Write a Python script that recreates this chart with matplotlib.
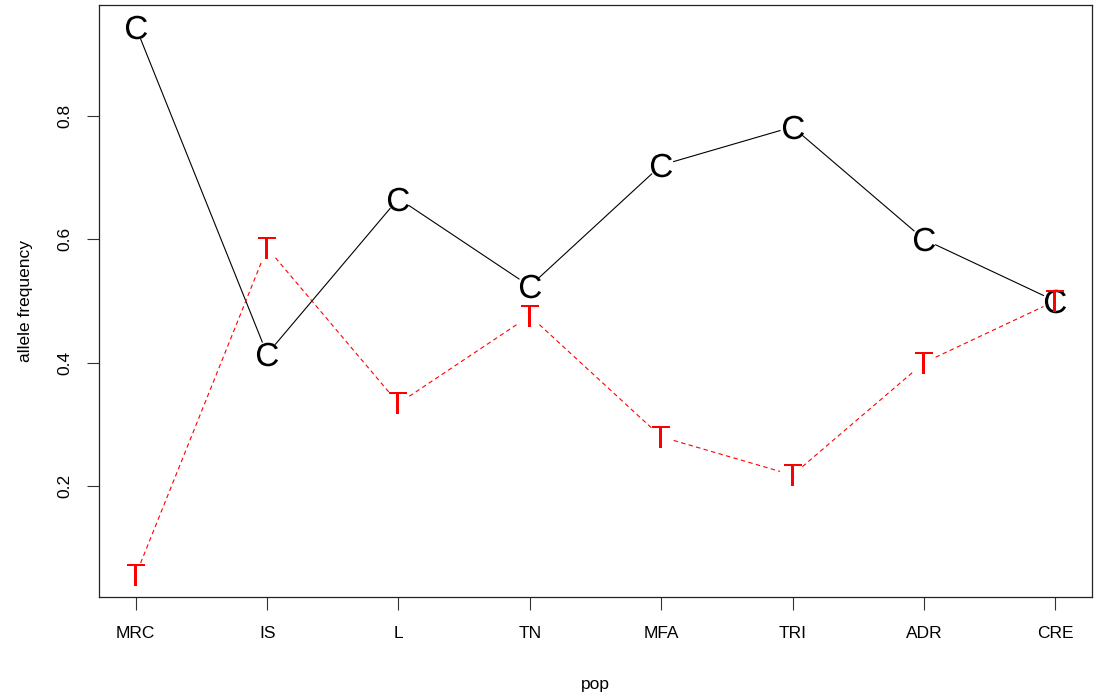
import numpy as np
import matplotlib.pyplot as plt

plt.rcParams['font.family'] = 'Liberation Sans'
plt.rcParams['mathtext.fontset'] = 'custom'
plt.rcParams['mathtext.rm'] = 'Liberation Sans'

pops = ['MRC', 'IS', 'L', 'TN', 'MFA', 'TRI', 'ADR', 'CRE']
freq_c = [0.944, 0.414, 0.666, 0.524, 0.720, 0.782, 0.600, 0.500]
freq_t = [0.056, 0.586, 0.334, 0.476, 0.280, 0.218, 0.400, 0.500]

fig = plt.figure(figsize=(10.96, 6.97), dpi=100)
ax = fig.add_axes([99 / 1096, 1 - 597 / 697, 993 / 1096, 592 / 697])

x = np.arange(1, len(pops) + 1)
ymin, ymax = 0.056, 0.944
pad = 0.04 * (ymax - ymin)
ax.set_xlim(1 - 0.04 * 7, 8 + 0.04 * 7)
ax.set_ylim(ymin - pad, ymax + pad)


def gapped_line(xs, ys, gap_px, **kw):
    # R type="b": segments stop short of each point symbol
    pts = ax.transData.transform(np.column_stack([xs, ys]))
    inv = ax.transData.inverted()
    for p0, p1 in zip(pts[:-1], pts[1:]):
        d = p1 - p0
        L = np.hypot(*d)
        if L <= 2 * gap_px:
            continue
        u = d / L
        a = inv.transform(p0 + u * gap_px)
        b = inv.transform(p1 - u * gap_px)
        ax.plot([a[0], b[0]], [a[1], b[1]], **kw)


gapped_line(x, freq_c, 13, color='black', lw=0.8)
gapped_line(x, freq_t, 13, color='red', lw=0.8, ls=(0, (4, 3)))
ax.plot(x, freq_c, ls='none', marker=r'$\mathrm{C}$', ms=17, mew=0, color='black')
ax.plot(x, freq_t, ls='none', marker=r'$\mathrm{T}$', ms=16, mew=0, color='red')

ax.set_xticks(x)
ax.set_xticklabels(pops)
ax.set_yticks([0.2, 0.4, 0.6, 0.8])
ax.set_yticklabels(['0.2', '0.4', '0.6', '0.8'], rotation=90, va='center')
ax.tick_params(length=9, width=0.8, labelsize=12.5, color='#333333', pad=10)
ax.tick_params(axis='x', pad=12)
for s in ax.spines.values():
    s.set_linewidth(0.9)
    s.set_color('#222222')

ax.set_xlabel('pop', fontsize=12.5, labelpad=26)
ax.set_ylabel('allele frequency', fontsize=12.5, labelpad=18)

fig.savefig('out.png', dpi=100)
